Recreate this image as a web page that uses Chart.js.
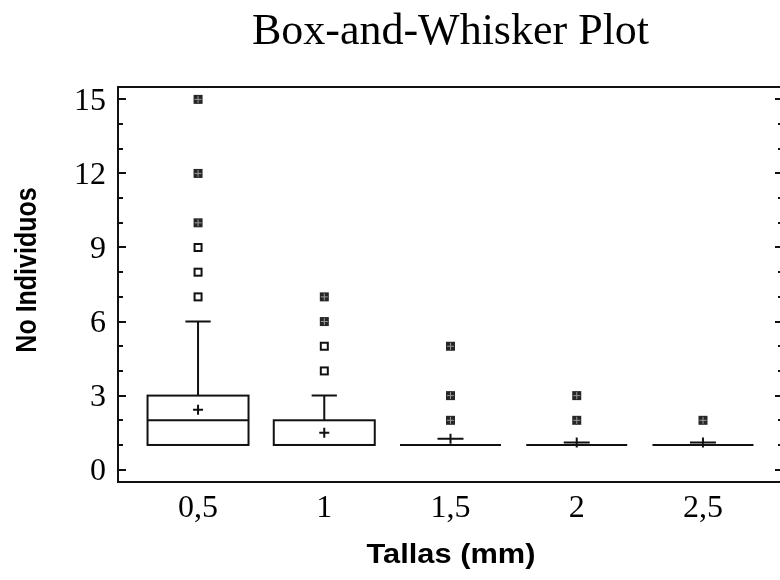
<!DOCTYPE html>
<html>
<head>
<meta charset="utf-8">
<script src="https://cdn.jsdelivr.net/npm/chart.js@4"></script>
<style>
  html, body { margin: 0; padding: 0; background: #fff; }
  #wrap { width: 780px; height: 580px; overflow: hidden; }
</style>
</head>
<body>
<div id="wrap"><canvas id="c" width="790" height="580"></canvas></div>
<script>
// size classes (mm) and their axis labels
const sizes = [0.5, 1, 1.5, 2, 2.5]
const sizeLabels = ['0,5', '1', '1,5', '2', '2,5']

// five-number summaries + mean per size class
const whiskerLow = [1, 1, 1, 1, 1]
const q1 = [1, 1, 1, 1, 1]
const median = [2, 1, 1, 1, 1]
const q3 = [3, 2, 1, 1, 1]
const whiskerHigh = [6, 3, 1, 1, 1]
const means = [2.43, 1.5, 1.25, 1.1, 1.1]

// outside points (open squares) and far outside points (filled squares)
const outside = [[7, 8, 9], [4, 5], [], [], []]
const farOutside = [[10, 12, 15], [6, 7], [2, 3, 5], [2, 3], [2]]

const yTicks = [0, 1, 2, 3, 4, 5, 6, 7, 8, 9, 10, 11, 12, 13, 14, 15]

const boxWidth = 0.4
const serif = "'Liberation Serif', 'Times New Roman', serif"
const sans = "'Liberation Sans', Arial, sans-serif"

function markerImage(filled) {
  const c = document.createElement('canvas')
  c.width = 11; c.height = 11
  const g = c.getContext('2d')
  if (filled) {
    g.fillStyle = '#262626'
    g.fillRect(1, 1, 9, 9)
    g.strokeStyle = '#9a9a9a'
    g.lineWidth = 1
    g.beginPath()
    g.moveTo(5.5, 2); g.lineTo(5.5, 9)
    g.moveTo(2, 5.5); g.lineTo(9, 5.5)
    g.stroke()
  } else {
    g.fillStyle = '#fff'
    g.fillRect(1, 1, 9, 9)
    g.strokeStyle = '#111'
    g.lineWidth = 2
    g.strokeRect(2, 2, 7, 7)
  }
  return c
}

function points(groups) {
  const out = []
  groups.forEach((vals, i) => vals.forEach(v => out.push({ x: sizes[i], y: v })))
  return out
}

// axis titles are a bit wider than the plain font, so they get a horizontal stretch
function stretchedText(ctx, text, x, y, rot, sx) {
  ctx.save()
  ctx.translate(x, y)
  ctx.rotate(rot)
  ctx.scale(sx[0], sx[1])
  ctx.fillText(text, 0, 0)
  ctx.restore()
}

const boxPlot = {
  id: 'boxPlot',
  beforeDatasetsDraw(chart) {
    const { ctx, scales: { x, y } } = chart
    ctx.save()
    ctx.strokeStyle = '#111'
    ctx.lineWidth = 2
    sizes.forEach((s, i) => {
      const cx = x.getPixelForValue(s)
      const half = (x.getPixelForValue(s + boxWidth / 2) - x.getPixelForValue(s - boxWidth / 2)) / 2
      const cap = half * 0.25
      const yq1 = y.getPixelForValue(q1[i]), yq3 = y.getPixelForValue(q3[i])
      const ylo = y.getPixelForValue(whiskerLow[i]), yhi = y.getPixelForValue(whiskerHigh[i])
      ctx.beginPath()
      // whiskers
      if (whiskerHigh[i] > q3[i]) {
        ctx.moveTo(cx, yq3); ctx.lineTo(cx, yhi)
        ctx.moveTo(cx - cap, yhi); ctx.lineTo(cx + cap, yhi)
      }
      if (whiskerLow[i] < q1[i]) {
        ctx.moveTo(cx, yq1); ctx.lineTo(cx, ylo)
        ctx.moveTo(cx - cap, ylo); ctx.lineTo(cx + cap, ylo)
      }
      ctx.stroke()
      // box
      if (q3[i] > q1[i]) {
        ctx.strokeRect(cx - half, yq3, half * 2, yq1 - yq3)
      }
      const ym = y.getPixelForValue(median[i])
      ctx.beginPath()
      ctx.moveTo(cx - half, ym); ctx.lineTo(cx + half, ym)
      ctx.stroke()
      // mean marker
      const yMean = y.getPixelForValue(means[i])
      const arm = q3[i] > q1[i] ? 5 : 13
      ctx.beginPath()
      ctx.moveTo(cx - arm, yMean); ctx.lineTo(cx + arm, yMean)
      ctx.moveTo(cx, yMean - 5); ctx.lineTo(cx, yMean + 5)
      ctx.stroke()
    })
    ctx.restore()
  },
  afterDraw(chart) {
    const { ctx, chartArea: a, scales: { y } } = chart
    ctx.save()
    ctx.strokeStyle = '#111'
    ctx.lineWidth = 2
    ctx.strokeRect(a.left, a.top, a.right - a.left, a.bottom - a.top)
    // inner tick marks on both vertical axes
    ctx.beginPath()
    yTicks.forEach(v => {
      const py = Math.round(y.getPixelForValue(v))
      const major = v % 3 === 0
      ctx.moveTo(a.left, py); ctx.lineTo(a.left + (major ? 8 : 5), py)
      ctx.moveTo(a.right, py); ctx.lineTo(a.right - (major ? 8 : 5), py)
    })
    ctx.stroke()

    ctx.fillStyle = '#000'
    ctx.textAlign = 'center'
    ctx.textBaseline = 'middle'
    ctx.font = '44px ' + serif
    ctx.fillText('Box-and-Whisker Plot', (a.left + a.right) / 2, 32)

    ctx.font = 'bold 28px ' + sans
    stretchedText(ctx, 'Tallas (mm)', 451, 555, 0, [1.1, 1])
    ctx.font = 'bold 25px ' + sans
    stretchedText(ctx, 'No Individuos', 28, 270, -Math.PI / 2, [1, 1.2])
    ctx.restore()
  }
}

new Chart(document.getElementById('c'), {
  type: 'scatter',
  data: {
    datasets: [
      { label: 'outside', data: points(outside), pointStyle: markerImage(false), pointRadius: 5 },
      { label: 'far outside', data: points(farOutside), pointStyle: markerImage(true), pointRadius: 5 }
    ]
  },
  options: {
    responsive: false,
    animation: false,
    layout: { padding: { top: 87, right: 7, left: 0, bottom: 0 } },
    plugins: { legend: { display: false }, tooltip: { enabled: false } },
    scales: {
      x: {
        type: 'linear',
        min: sizes[0] - 0.317,
        max: sizes[sizes.length - 1] + 0.317,
        afterBuildTicks: s => { s.ticks = sizes.map(v => ({ value: v })) },
        afterFit: s => { s.height = 98 },
        grid: { display: false, drawTicks: false },
        border: { display: false },
        ticks: {
          autoSkip: false,
          maxRotation: 0,
          padding: 7,
          color: '#000',
          font: { family: serif, size: 32 },
          callback: v => sizeLabels[sizes.indexOf(v)]
        }
      },
      y: {
        min: -0.5,
        max: 15.5,
        afterBuildTicks: s => { s.ticks = yTicks.map(v => ({ value: v })) },
        afterFit: s => { s.width = 118 },
        grid: { display: false, drawTicks: false },
        border: { display: false },
        ticks: {
          autoSkip: false,
          padding: 12,
          labelOffset: 2,
          color: '#000',
          font: { family: serif, size: 32 },
          callback: v => (v % 3 === 0 ? String(v) : '')
        }
      }
    }
  },
  plugins: [boxPlot]
})
</script>
</body>
</html>
